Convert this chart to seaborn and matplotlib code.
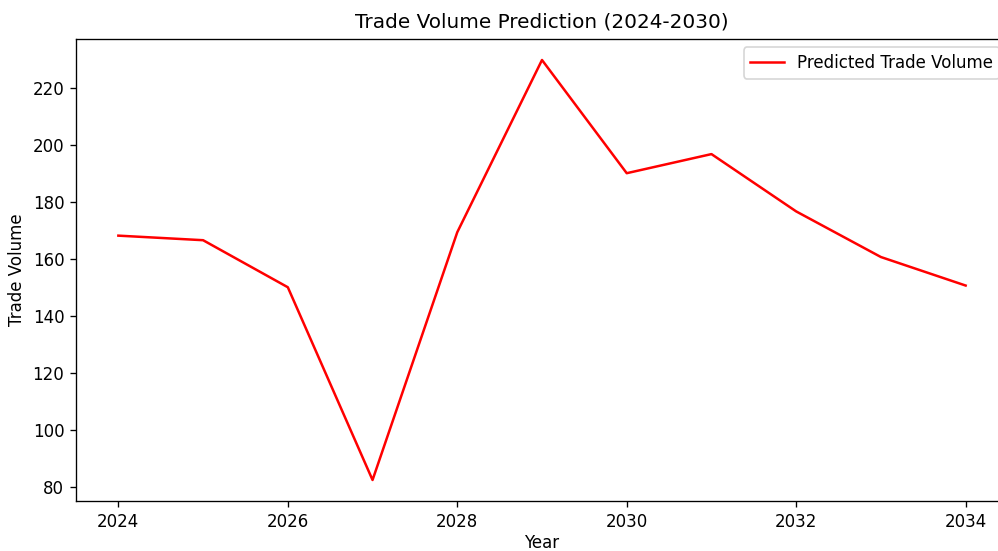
import numpy as np
import pandas as pd
import matplotlib
matplotlib.use("Agg")
import matplotlib.pyplot as plt
import seaborn as sns

years = [2024, 2025, 2026, 2027, 2028, 2029, 2030, 2031, 2032, 2033, 2034]
volume = [168.2, 166.6, 150.1, 82.5, 169.4, 229.8, 190.1, 196.8, 176.7, 160.7, 150.7]

df = pd.DataFrame({'Year': years, 'Trade Volume': volume})

fig = plt.figure(figsize=(998 / 120, 551 / 120), dpi=120)
# axes runs a little past the right edge, as in the original crop
ax = fig.add_axes([76 / 998, 50 / 551, 932 / 998, 462 / 551])

sns.lineplot(data=df, x='Year', y='Trade Volume', color='red',
             label='Predicted Trade Volume', ax=ax)

ax.set_title('Trade Volume Prediction (2024-2030)', pad=7)
ax.set_xlabel('Year', labelpad=2)
ax.set_ylabel('Trade Volume')
ax.set_xticks([2024, 2026, 2028, 2030, 2032, 2034])
ax.legend(loc='upper right')

fig.savefig('out.png', dpi=120)
